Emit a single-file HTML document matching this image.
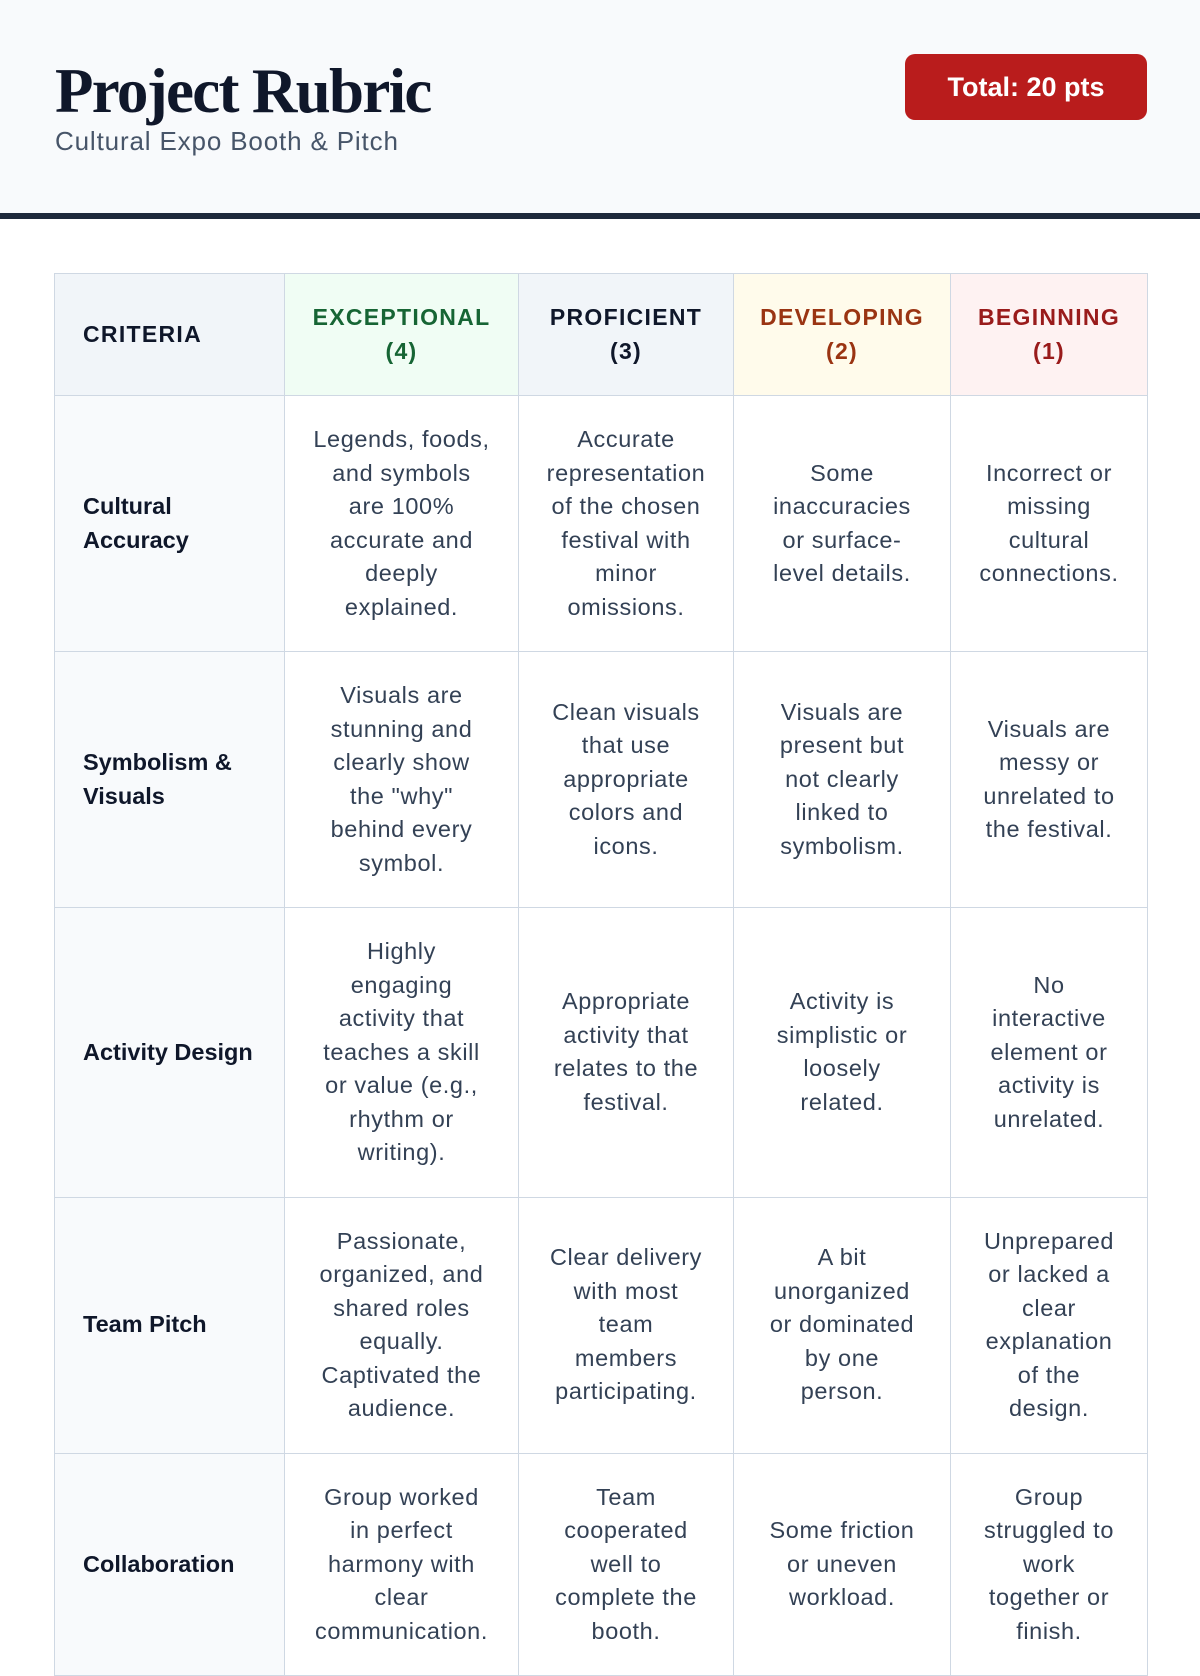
<!DOCTYPE html>
<html>
<head>
<meta charset="utf-8">
<style>
  html, body { margin:0; padding:0; }
  body {
    width:1200px; height:1600px; overflow:hidden; position:relative;
    background:#ffffff; font-family:"Liberation Sans", Arial, sans-serif;
  }
  .hdr {
    position:absolute; left:0; top:0; width:1200px; height:213px;
    background:#f8fafc; border-bottom:6px solid #1e293b;
  }
  .title {
    position:absolute; left:55px; top:60px; margin:0;
    font-family:"Liberation Serif", "Times New Roman", serif; font-weight:bold;
    font-size:63px; line-height:63px; letter-spacing:-1.7px; color:#0f172a;
    white-space:nowrap;
  }
  .sub {
    position:absolute; left:55px; top:128px;
    font-size:26px; line-height:26px; letter-spacing:0.85px; color:#475569;
    white-space:nowrap;
  }
  .badge {
    position:absolute; left:905px; top:54px; width:242px; height:66px;
    background:#b91c1c; border-radius:10px; color:#fff;
    display:flex; align-items:center; justify-content:center;
    font-weight:bold; font-size:27px; white-space:nowrap;
  }
  table {
    position:absolute; left:54px; top:273px; width:1093px;
    border-collapse:collapse; table-layout:fixed;
    border:1px solid #cfd8e3;
  }
  td, th {
    border:1px solid #cfd8e3; padding:27px 6px; vertical-align:middle;
    line-height:33.5px; white-space:nowrap; text-align:center;
  }
  th {
    font-size:23px; font-weight:bold; letter-spacing:1.3px; text-transform:uppercase;
  }
  th.crit { text-align:left; padding-left:28px; background:#f1f5f9; color:#0f172a; }
  th.ex { background:#f0fdf4; color:#166534; }
  th.pr { background:#f1f5f9; color:#0f172a; }
  th.dv { background:#fffbeb; color:#9a3412; }
  th.bg { background:#fef2f2; color:#991b1b; }
  td { font-size:23.5px; letter-spacing:0.6px; color:#334155; background:#fff; }
  td.c {
    text-align:left; padding-left:28px; background:#f8fafc; color:#0f172a;
    font-weight:bold; letter-spacing:0;
  }
</style>
</head>
<body>
  <div class="hdr">
    <div class="title">Project Rubric</div>
    <div class="sub">Cultural Expo Booth &amp; Pitch</div>
    <div class="badge">Total: 20 pts</div>
  </div>

  <table>
    <colgroup>
      <col style="width:230px">
      <col style="width:234px">
      <col style="width:215px">
      <col style="width:217px">
      <col style="width:197px">
    </colgroup>
    <tr>
      <th class="crit">Criteria</th>
      <th class="ex">Exceptional<br>(4)</th>
      <th class="pr">Proficient<br>(3)</th>
      <th class="dv">Developing<br>(2)</th>
      <th class="bg">Beginning<br>(1)</th>
    </tr>
    <tr>
      <td class="c">Cultural<br>Accuracy</td>
      <td>Legends, foods,<br>and symbols<br>are 100%<br>accurate and<br>deeply<br>explained.</td>
      <td>Accurate<br>representation<br>of the chosen<br>festival with<br>minor<br>omissions.</td>
      <td>Some<br>inaccuracies<br>or surface-<br>level details.</td>
      <td>Incorrect or<br>missing<br>cultural<br>connections.</td>
    </tr>
    <tr>
      <td class="c">Symbolism &amp;<br>Visuals</td>
      <td>Visuals are<br>stunning and<br>clearly show<br>the "why"<br>behind every<br>symbol.</td>
      <td>Clean visuals<br>that use<br>appropriate<br>colors and<br>icons.</td>
      <td>Visuals are<br>present but<br>not clearly<br>linked to<br>symbolism.</td>
      <td>Visuals are<br>messy or<br>unrelated to<br>the festival.</td>
    </tr>
    <tr>
      <td class="c">Activity Design</td>
      <td>Highly<br>engaging<br>activity that<br>teaches a skill<br>or value (e.g.,<br>rhythm or<br>writing).</td>
      <td>Appropriate<br>activity that<br>relates to the<br>festival.</td>
      <td>Activity is<br>simplistic or<br>loosely<br>related.</td>
      <td>No<br>interactive<br>element or<br>activity is<br>unrelated.</td>
    </tr>
    <tr>
      <td class="c">Team Pitch</td>
      <td>Passionate,<br>organized, and<br>shared roles<br>equally.<br>Captivated the<br>audience.</td>
      <td>Clear delivery<br>with most<br>team<br>members<br>participating.</td>
      <td>A bit<br>unorganized<br>or dominated<br>by one<br>person.</td>
      <td>Unprepared<br>or lacked a<br>clear<br>explanation<br>of the<br>design.</td>
    </tr>
    <tr>
      <td class="c">Collaboration</td>
      <td>Group worked<br>in perfect<br>harmony with<br>clear<br>communication.</td>
      <td>Team<br>cooperated<br>well to<br>complete the<br>booth.</td>
      <td>Some friction<br>or uneven<br>workload.</td>
      <td>Group<br>struggled to<br>work<br>together or<br>finish.</td>
    </tr>
  </table>
</body>
</html>
